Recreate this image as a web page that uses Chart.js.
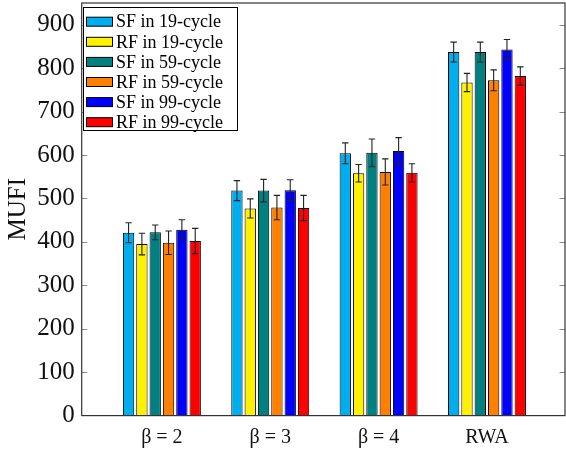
<!DOCTYPE html>
<html>
<head>
<meta charset="utf-8">
<script src="https://cdn.jsdelivr.net/npm/chart.js@4.4.0/dist/chart.umd.min.js"></script>
<style>
  html, body { margin: 0; padding: 0; background: white; }
  #wrap { width: 566px; height: 452px; }
</style>
</head>
<body>
<div id="wrap"><canvas id="c" width="566" height="452"></canvas></div>
<script>
// MUFI per setting, six series (SF/RF at 19/59/99 cycles) with error bars
const categories = ['\u03b2 = 2', '\u03b2 = 3', '\u03b2 = 4', 'RWA'];
const seriesNames = ['SF in 19-cycle', 'RF in 19-cycle', 'SF in 59-cycle',
                     'RF in 59-cycle', 'SF in 99-cycle', 'RF in 99-cycle'];
const seriesColors = ['#00adef', '#fff100', '#008080', '#ff8000', '#0000ff', '#ff0000'];

const sf19 = [421, 518, 604, 837];
const rf19 = [395, 477, 558, 767];
const sf59 = [422, 518, 605, 837];
const rf59 = [398, 479, 561, 772];
const sf99 = [428, 519, 609, 843];
const rf99 = [402, 478, 559, 782];

const sf19Err = [23, 23, 24, 23];
const rf19Err = [25, 22, 20, 21];
const sf59Err = [17, 26, 32, 23];
const rf59Err = [27, 28, 30, 24];
const sf99Err = [23, 24, 31, 23];
const rf99Err = [29, 29, 21, 21];

const yTicks = [0, 100, 200, 300, 400, 500, 600, 700, 800, 900];

const values = [sf19, rf19, sf59, rf59, sf99, rf99];
const errors = [sf19Err, rf19Err, sf59Err, rf59Err, sf99Err, rf99Err];

const SERIF = "'Liberation Serif', 'DejaVu Serif', serif";

// error bars, inward tick marks, frame and legend
const decoPlugin = {
    id: 'deco',
    afterDatasetsDraw: function (chart) {
        const ctx = chart.ctx;
        const y = chart.scales.y;
        const a = chart.chartArea;
        ctx.save();

        // error bars
        ctx.strokeStyle = '#222';
        ctx.lineWidth = 1.1;
        chart.data.datasets.forEach(function (ds, di) {
            const meta = chart.getDatasetMeta(di);
            meta.data.forEach(function (bar, j) {
                const v = values[di][j], e = errors[di][j];
                const top = y.getPixelForValue(v + e);
                const bot = y.getPixelForValue(v - e);
                const x = bar.x;
                ctx.beginPath();
                ctx.moveTo(x, top); ctx.lineTo(x, bot);
                ctx.moveTo(x - 3.2, top); ctx.lineTo(x + 3.2, top);
                ctx.moveTo(x - 3.2, bot); ctx.lineTo(x + 3.2, bot);
                ctx.stroke();
            });
        });

        // inward tick marks on both sides
        ctx.strokeStyle = '#888';
        ctx.lineWidth = 1;
        yTicks.forEach(function (t) {
            if (t === 0) return;
            const py = Math.round(y.getPixelForValue(t)) + 0.5;
            ctx.beginPath();
            ctx.moveTo(a.left, py); ctx.lineTo(a.left + 5.5, py);
            ctx.moveTo(a.right - 5.5, py); ctx.lineTo(a.right, py);
            ctx.stroke();
        });

        // frame
        ctx.strokeStyle = '#333';
        ctx.lineWidth = 1.2;
        ctx.strokeRect(a.left, a.top, a.right - a.left, a.bottom - a.top);

        // legend box
        const lx = 83, ly = 7, lw = 154, lh = 123;
        ctx.fillStyle = 'white';
        ctx.fillRect(lx, ly, lw, lh);
        ctx.strokeStyle = '#000';
        ctx.lineWidth = 1;
        ctx.strokeRect(lx + 0.5, ly + 0.5, lw, lh);
        ctx.font = '18px ' + SERIF;
        ctx.textBaseline = 'middle';
        ctx.textAlign = 'left';
        chart.data.datasets.forEach(function (ds, di) {
            const cy = 21.7 + di * 20.1;
            ctx.fillStyle = ds.backgroundColor;
            ctx.fillRect(86.5, cy - 4.5, 26, 9);
            ctx.strokeStyle = '#000';
            ctx.strokeRect(86.5, cy - 4.5, 26, 9);
            ctx.fillStyle = '#000';
            ctx.fillText(ds.label, 116, cy + 1);
        });
        ctx.restore();
    }
};

const chart = new Chart(document.getElementById('c').getContext('2d'), {
    type: 'bar',
    data: {
        datasets: seriesNames.map(function (name, i) {
            return {
                label: name,
                data: values[i].map(function (v, j) { return { x: j, y: v }; }),
                backgroundColor: seriesColors[i],
                borderColor: '#000',
                borderWidth: 1,
                categoryPercentage: 0.738,
                barPercentage: 0.85
            };
        })
    },
    options: {
        responsive: false,
        animation: false,
        layout: { padding: { top: 3, right: 1, left: 0, bottom: 0 } },
        plugins: { legend: { display: false }, tooltip: { enabled: false } },
        scales: {
            x: {
                type: 'linear',
                offset: false,
                min: -0.74,
                max: 3.72,
                grid: { display: false, drawTicks: false },
                border: { display: false },
                afterBuildTicks: function (s) {
                    s.ticks = categories.map(function (c, i) { return { value: i }; });
                },
                afterFit: function (s) {
                    s.height = 36.4;
                    s.paddingLeft = 0; s.paddingRight = 0;
                },
                ticks: {
                    autoSkip: false,
                    maxRotation: 0,
                    padding: 10,
                    color: '#111',
                    font: { family: SERIF, size: 20 },
                    callback: function (v) { return categories[v]; }
                }
            },
            y: {
                min: 0,
                max: 950,
                grid: { display: false, drawTicks: false },
                border: { display: false },
                afterBuildTicks: function (s) {
                    s.ticks = yTicks.map(function (t) { return { value: t }; });
                },
                afterFit: function (s) {
                    s.width = 81.7;
                    s.paddingTop = 0; s.paddingBottom = 0;
                },
                ticks: {
                    padding: 7,
                    color: '#111',
                    font: { family: SERIF, size: 25 }
                },
                title: {
                    display: true,
                    text: 'MUFI',
                    color: '#111',
                    padding: { top: 3, bottom: 0 },
                    font: { family: SERIF, size: 25 }
                }
            }
        }
    },
    plugins: [decoPlugin]
});
</script>
</body>
</html>
